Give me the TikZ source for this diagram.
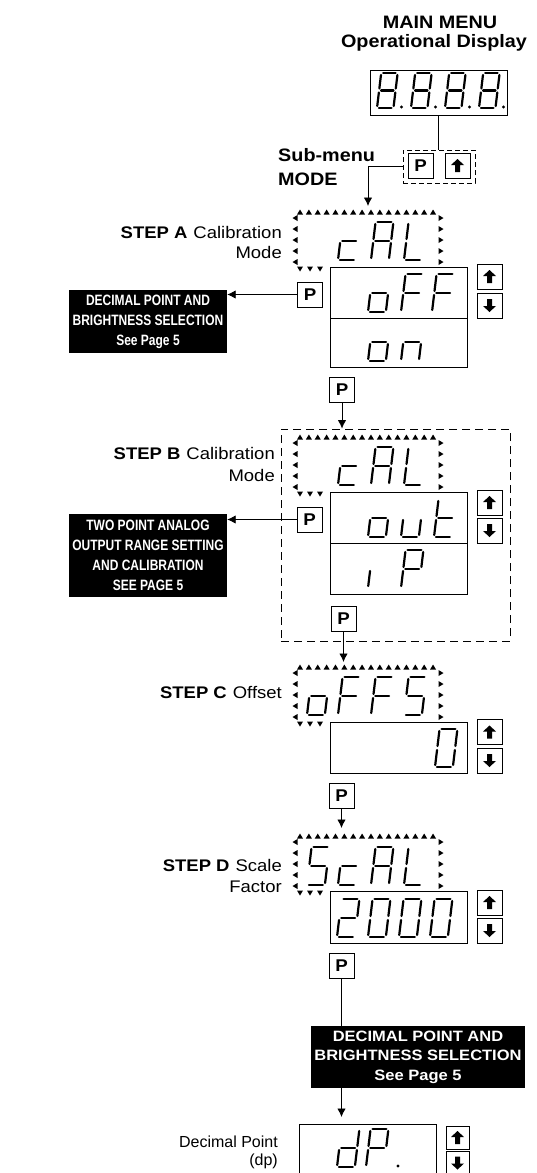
\documentclass[tikz,border=0pt]{standalone}
\usepackage{fontspec}
\setmainfont{Liberation Sans}[FakeStretch=1.1]
\newfontfamily\condfont{Liberation Sans}[FakeStretch=0.8]
\newfontfamily\plainfont{Liberation Sans}
\usetikzlibrary{arrows.meta}
\newcommand\fs[2]{\fontsize{#1}{#2}\selectfont}
\newcommand\sdigit[4]{%
  \begin{scope}[shift={(#1,#2)},xslant=0.12]
    \pgfmathsetmacro\hh{#3}%
    \pgfmathsetmacro\hm{#3/2}%
    \pgfmathsetmacro\ww{0.47*#3}%
    \foreach \s in {#4}{%
      \if\s a\draw[seg] (2,-\hh) -- (\ww-2,-\hh);\fi
      \if\s b\draw[seg] (\ww,-\hh+2) -- (\ww,-\hm-2);\fi
      \if\s c\draw[seg] (\ww,-\hm+2) -- (\ww,-2);\fi
      \if\s d\draw[seg] (2,0) -- (\ww-2,0);\fi
      \if\s e\draw[seg] (0,-\hm+2) -- (0,-2);\fi
      \if\s f\draw[seg] (0,-\hh+2) -- (0,-\hm-2);\fi
      \if\s g\draw[seg] (2,-\hm) -- (\ww-2,-\hm);\fi
    }%
  \end{scope}}
\newcommand\blink[1]{%
  \foreach \i in {0,...,15} \pic at ({300+\i*8.87},{#1-55}) {tu};
  \foreach \j in {49,38,27,16,5} {\pic at (295,{#1-\j}) {tl}; \pic at (441,{#1-\j}) {tr};}
  \foreach \i in {0,1,2} \pic at ({300+\i*10},{#1+2}) {td};
}
\begin{document}
\begin{tikzpicture}[x=1pt,y=-1pt,
  seg/.style={line width=2.2pt,line cap=round},
  btn/.style={draw,line width=0.9pt,minimum size=25pt,inner sep=0pt,font=\fs{17}{17}\bfseries},
  vbox/.style={draw,line width=0.9pt,minimum width=137pt,inner sep=0pt},
  blk/.style={fill=black,text=white,inner sep=0pt,align=center},
  conn/.style={line width=0.9pt},
  arr/.style={line width=0.9pt,-{Latex[length=8.5pt,width=8.5pt]}},
  lab/.style={inner sep=0pt,font=\fs{16.8}{20}},
  tu/.pic={\fill (-3,2.5)--(3,2.5)--(0,-2.5)--cycle;},
  td/.pic={\fill (-3,-2.5)--(3,-2.5)--(0,2.5)--cycle;},
  tl/.pic={\fill (2.5,-3)--(2.5,3)--(-2.5,0)--cycle;},
  tr/.pic={\fill (-2.5,-3)--(-2.5,3)--(2.5,0)--cycle;},
  uparr/.pic={\fill (-6.5,-0.5)--(0,-6.5)--(6.5,-0.5)--(2.5,-0.5)--(2.5,6.5)--(-2.5,6.5)--(-2.5,-0.5)--cycle;},
  dnarr/.pic={\fill (-6.5,0.5)--(0,6.5)--(6.5,0.5)--(2.5,0.5)--(2.5,-6.5)--(-2.5,-6.5)--(-2.5,0.5)--cycle;},
]
\useasboundingbox (0,0) rectangle (536,1173);

% Title and main display
\node[inner sep=0pt,anchor=base,font=\fs{18}{18}\bfseries] (t1) at (440,28) {MAIN MENU};
\node[inner sep=0pt,anchor=base,font=\fs{18}{18}\bfseries] (t2) at (434,47) {Operational Display};
\node[draw,line width=0.9pt,minimum width=137pt,minimum height=45pt,inner sep=0pt] (disp) at (438.5,92.5) {};
\foreach \x in {377,411,445,479} {\sdigit{\x}{108}{35}{a,b,c,d,e,f,g} \fill (\x+24.5,107) circle (1.7);}

\node[draw,dash pattern=on 5pt off 3pt,line width=0.9pt,minimum width=72pt,minimum height=33pt,inner sep=0pt] (dbox) at (439,166.5) {};
\node[btn] (p0) at (420.5,165.5) {P};
\node[btn] (u0) at (457.5,165.5) {}; \pic at (u0) {uparr};
\draw[conn] (disp.south) -- (disp.south |- dbox.north);

\node[inner sep=0pt,anchor=base west,font=\fs{18}{18}\bfseries] (sm1) at (278,161) {Sub-menu};
\node[inner sep=0pt,anchor=base west,font=\fs{18}{18}\bfseries] (sm2) at (278,185) {MODE};
\coordinate (tA) at (368,206);
\draw[arr] (dbox.west) -| (tA);

% STEP A
\blink{267}
\node[vbox,minimum height=51pt] (vA1) at (398.5,292.5) {};
\node[vbox,minimum height=49pt] (vA2) at (398.5,342.5) {};
\sdigit{338}{260}{38}{d,e,g}
\sdigit{371}{260}{38}{a,b,c,e,f,g}
\sdigit{404}{260}{38}{d,e,f}
\sdigit{368}{312}{38}{c,d,e,g}
\sdigit{401}{312}{38}{a,e,f,g}
\sdigit{432}{312}{38}{a,e,f,g}
\sdigit{368}{361}{38}{c,d,e,g}
\sdigit{401}{361}{38}{c,e,g}
\node[btn] (uA) at (489.5,276.5) {}; \pic at (uA) {uparr};
\node[btn] (dA) at (489.5,305.5) {}; \pic at (dA) {dnarr};
\node[btn] (pA) at (310,294.5) {P};
\node[blk,minimum width=158pt,minimum height=63pt,font=\fs{15}{20}\condfont\bfseries] (bA) at (148,321.5) {DECIMAL POINT AND\\BRIGHTNESS SELECTION\\See Page 5};
\draw[arr] (pA.west) -- (pA.west -| bA.east);
\node[lab,anchor=base east] (lA1) at (282,238) {\textbf{STEP A}\hspace{6pt}Calibration};
\node[lab,anchor=base east] (lA2) at (282,258) {Mode};

\node[btn] (pAB) at (342,390) {P};

% STEP B
\node[draw,dash pattern=on 8pt off 5pt,line width=0.9pt,minimum width=229pt,minimum height=212pt,inner sep=0pt] (dashB) at (395.5,535) {};
\draw[arr] (pAB.south) -- (pAB.south |- dashB.north);
\blink{492}
\node[vbox,minimum height=51pt] (vB1) at (398.5,517.5) {};
\node[vbox,minimum height=51pt] (vB2) at (398.5,568.5) {};
\sdigit{338}{485}{38}{d,e,g}
\sdigit{371}{485}{38}{a,b,c,e,f,g}
\sdigit{404}{485}{38}{d,e,f}
\sdigit{368}{537}{38}{c,d,e,g}
\sdigit{401}{537}{38}{c,d,e}
\sdigit{434}{537}{38}{d,e,f,g}
\sdigit{368}{588}{38}{e}
\sdigit{401}{588}{38}{a,b,e,f,g}
\node[btn] (uB) at (489.5,502.5) {}; \pic at (uB) {uparr};
\node[btn] (dB) at (489.5,530.5) {}; \pic at (dB) {dnarr};
\node[btn] (pB) at (309.5,519.5) {P};
\node[blk,minimum width=158pt,minimum height=83pt,font=\fs{15}{20}\condfont\bfseries] (bB) at (148,555.5) {TWO POINT ANALOG\\OUTPUT RANGE SETTING\\AND CALIBRATION\\SEE PAGE 5};
\draw[arr] (pB.west) -- (pB.west -| bB.east);
\node[lab,anchor=base east] (lB1) at (275,459) {\textbf{STEP B}\hspace{6pt}Calibration};
\node[lab,anchor=base east] (lB2) at (275,481) {Mode};
\node[btn] (pBC) at (343.5,618.5) {P};
\coordinate (tC) at (343.5,662);
\draw[arr] (pBC.south) -- (tC);

% STEP C
\blink{722}
\node[vbox,minimum height=51pt] (vC) at (398.5,747.5) {};
\sdigit{307}{715}{38}{c,d,e,g}
\sdigit{338}{715}{38}{a,e,f,g}
\sdigit{371}{715}{38}{a,e,f,g}
\sdigit{404}{715}{38}{a,c,d,f,g}
\sdigit{435}{767}{38}{a,b,c,d,e,f}
\node[btn] (uC) at (489.5,732) {}; \pic at (uC) {uparr};
\node[btn] (dC) at (489.5,760.5) {}; \pic at (dC) {dnarr};
\node[lab,anchor=base east] (lC) at (282,698) {\textbf{STEP C}\hspace{6pt}Offset};
\node[btn] (pCD) at (341.5,795.5) {P};
\coordinate (tD) at (341.5,828);
\draw[arr] (pCD.south) -- (tD);

% STEP D
\blink{891}
\node[vbox,minimum height=52pt] (vD) at (398.5,917) {};
\sdigit{307}{885}{38}{a,c,d,f,g}
\sdigit{338}{885}{38}{d,e,g}
\sdigit{371}{885}{38}{a,b,c,e,f,g}
\sdigit{404}{885}{38}{d,e,f}
\sdigit{337}{937}{38}{a,b,d,e,g}
\sdigit{368}{937}{38}{a,b,c,d,e,f}
\sdigit{399}{937}{38}{a,b,c,d,e,f}
\sdigit{430}{937}{38}{a,b,c,d,e,f}
\node[btn] (uD) at (489.5,902.5) {}; \pic at (uD) {uparr};
\node[btn] (dD) at (489.5,930.5) {}; \pic at (dD) {dnarr};
\node[lab,anchor=base east] (lD1) at (282,871) {\textbf{STEP D}\hspace{6pt}Scale};
\node[lab,anchor=base east] (lD2) at (282,892) {Factor};
\node[btn] (pD) at (341.5,965.5) {P};
\node[blk,minimum width=214pt,minimum height=62pt,font=\fs{15}{19.5}\bfseries] (bC) at (418,1057) {DECIMAL POINT AND\\BRIGHTNESS SELECTION\\See Page 5};
\draw[conn] (pD.south) -- (pD.south |- bC.north);
\coordinate (tE) at (341.5,1117);
\draw[arr] (pD.south |- bC.south) -- (tE);

% Decimal point
\node[vbox,minimum height=50pt] (vE) at (367.5,1149) {};
\sdigit{337}{1167}{38}{b,c,d,e,g}
\sdigit{366}{1167}{38}{a,b,e,f,g}
\fill (398,1166) circle (1.7);
\node[btn,minimum size=23pt] (uE) at (457.5,1137.5) {}; \pic at (uE) {uparr};
\node[btn,minimum size=23pt] (dE) at (457.5,1163) {}; \pic at (dE) {dnarr};
\node[lab,anchor=base east,font=\fs{16}{20}\plainfont] (lE1) at (278,1147) {Decimal Point};
\node[lab,anchor=base east,font=\fs{16}{20}\plainfont] (lE2) at (278,1165) {(dp)};
\end{tikzpicture}
\end{document}
